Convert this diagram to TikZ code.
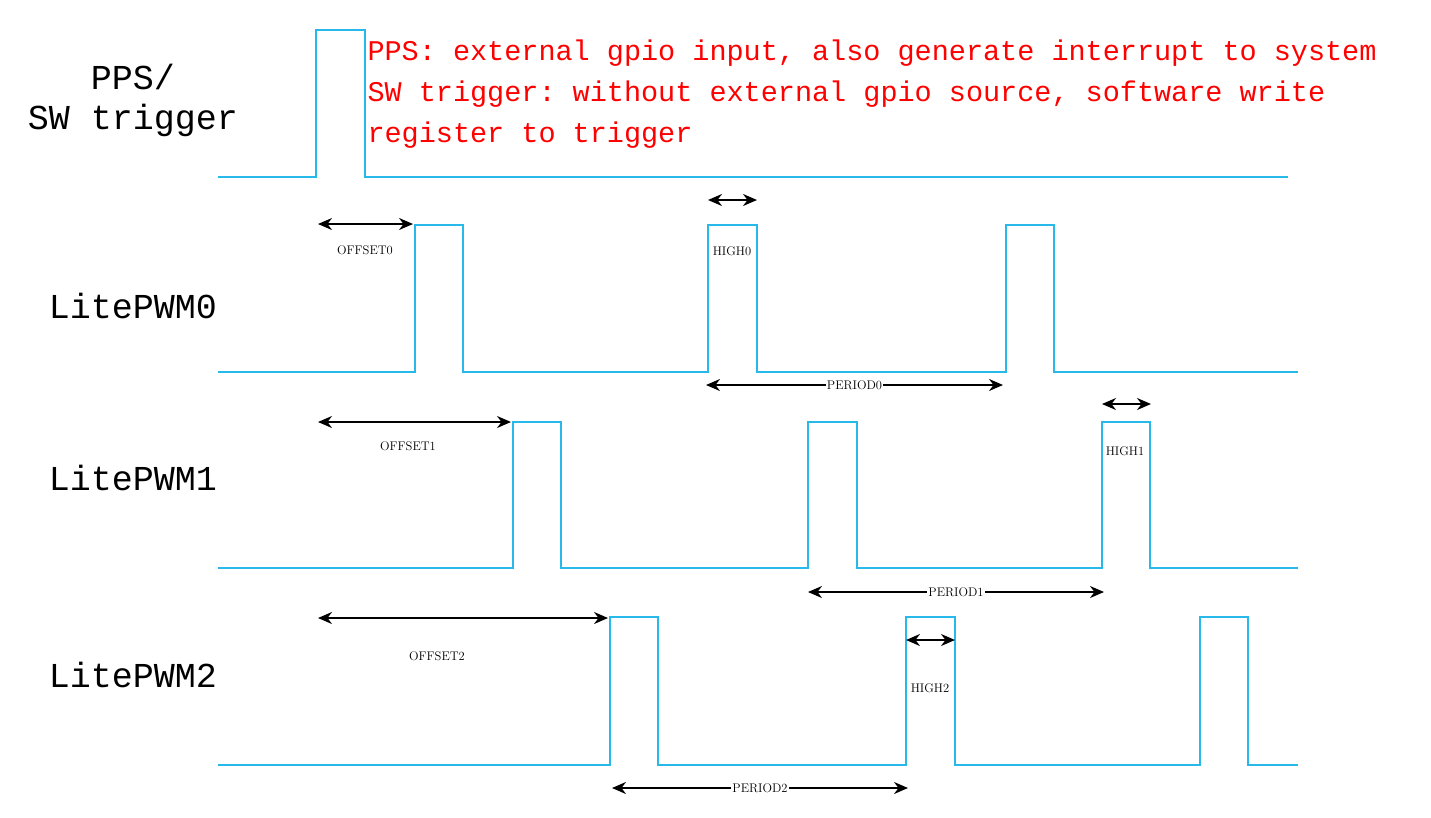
\documentclass[tikz,border=0pt]{standalone}
\usepackage{fontspec}
\setmonofont{Liberation Mono}
\usetikzlibrary{arrows.meta}
\definecolor{wave}{RGB}{40,185,235}
\begin{document}
\begin{tikzpicture}[
            x = 1pt, y = -1pt, % pixel grid
            signal/.style = {wave, line width=1.6pt},
            span/.style = {<->, >={Stealth[length=14pt,width=12pt]}, line width=1.8pt},
            tag/.style = {font=\fontsize{12.5}{12.5}\selectfont, inner sep=1pt},
            chan/.style = {font=\ttfamily\fontsize{35}{40}\selectfont, align=center},
            note/.style = {font=\ttfamily\fontsize{28.5}{41}\selectfont, red, align=left, anchor=north west}
        ]
        \useasboundingbox (0,0) rectangle (1431,817);

        % trigger
        \draw[signal] (218,177) -- (316,177) -- (316,30) -- (365,30) -- (365,177) -- (1288,177);
        % pwm channels: baseline, top, pulse starts
        \foreach \base/\top/\a/\b/\c in {372/225/415/708/1006, 568/422/513/808/1102, 765/617/610/906/1200}{
            \draw[signal] (218,\base) -- (\a,\base) -- (\a,\top) -- (\a+48,\top) -- (\a+48,\base)
                -- (\b,\base) -- (\b,\top) -- (\b+49,\top) -- (\b+49,\base)
                -- (\c,\base) -- (\c,\top) -- (\c+48,\top) -- (\c+48,\base) -- (1298,\base);
        }

        \node[chan] (pps) at (133,100) {PPS/\\SW trigger};
        \node[chan] (pwm0) at (133,306) {LitePWM0};
        \node[chan] (pwm1) at (133,478) {LitePWM1};
        \node[chan] (pwm2) at (133,675) {LitePWM2};
        \node[note] (info) at (364,36) {PPS: external gpio input, also generate interrupt to system\\SW trigger: without external gpio source, software write\\register to trigger};

        % offsets
        \coordinate (o0a) at (318,224); \coordinate (o0b) at (413,224);
        \coordinate (o1a) at (318,422); \coordinate (o1b) at (511,422);
        \coordinate (o2a) at (318,618); \coordinate (o2b) at (608,618);
        \draw[span] (o0a) -- (o0b);
        \draw[span] (o1a) -- (o1b);
        \draw[span] (o2a) -- (o2b);
        \node[tag] (off0) at (365,250) {OFFSET0};
        \node[tag] (off1) at (408,446) {OFFSET1};
        \node[tag] (off2) at (437,656) {OFFSET2};

        % high widths
        \coordinate (h0a) at (708,200); \coordinate (h0b) at (757,200);
        \coordinate (h1a) at (1102,404); \coordinate (h1b) at (1151,404);
        \coordinate (h2a) at (906,640); \coordinate (h2b) at (955,640);
        \draw[span] (h0a) -- (h0b);
        \draw[span] (h1a) -- (h1b);
        \draw[span] (h2a) -- (h2b);
        \node[tag] (high0) at (732,251) {HIGH0};
        \node[tag] (high1) at (1125,451) {HIGH1};
        \node[tag] (high2) at (930,688) {HIGH2};

        % periods
        \coordinate (p0a) at (706,385); \coordinate (p0b) at (1003,385);
        \coordinate (p1a) at (808,592); \coordinate (p1b) at (1104,592);
        \coordinate (p2a) at (612,788); \coordinate (p2b) at (908,788);
        \draw[span] (p0a) -- node[tag, fill=white] (per0) {PERIOD0} (p0b);
        \draw[span] (p1a) -- node[tag, fill=white] (per1) {PERIOD1} (p1b);
        \draw[span] (p2a) -- node[tag, fill=white] (per2) {PERIOD2} (p2b);
\end{tikzpicture}
\end{document}
